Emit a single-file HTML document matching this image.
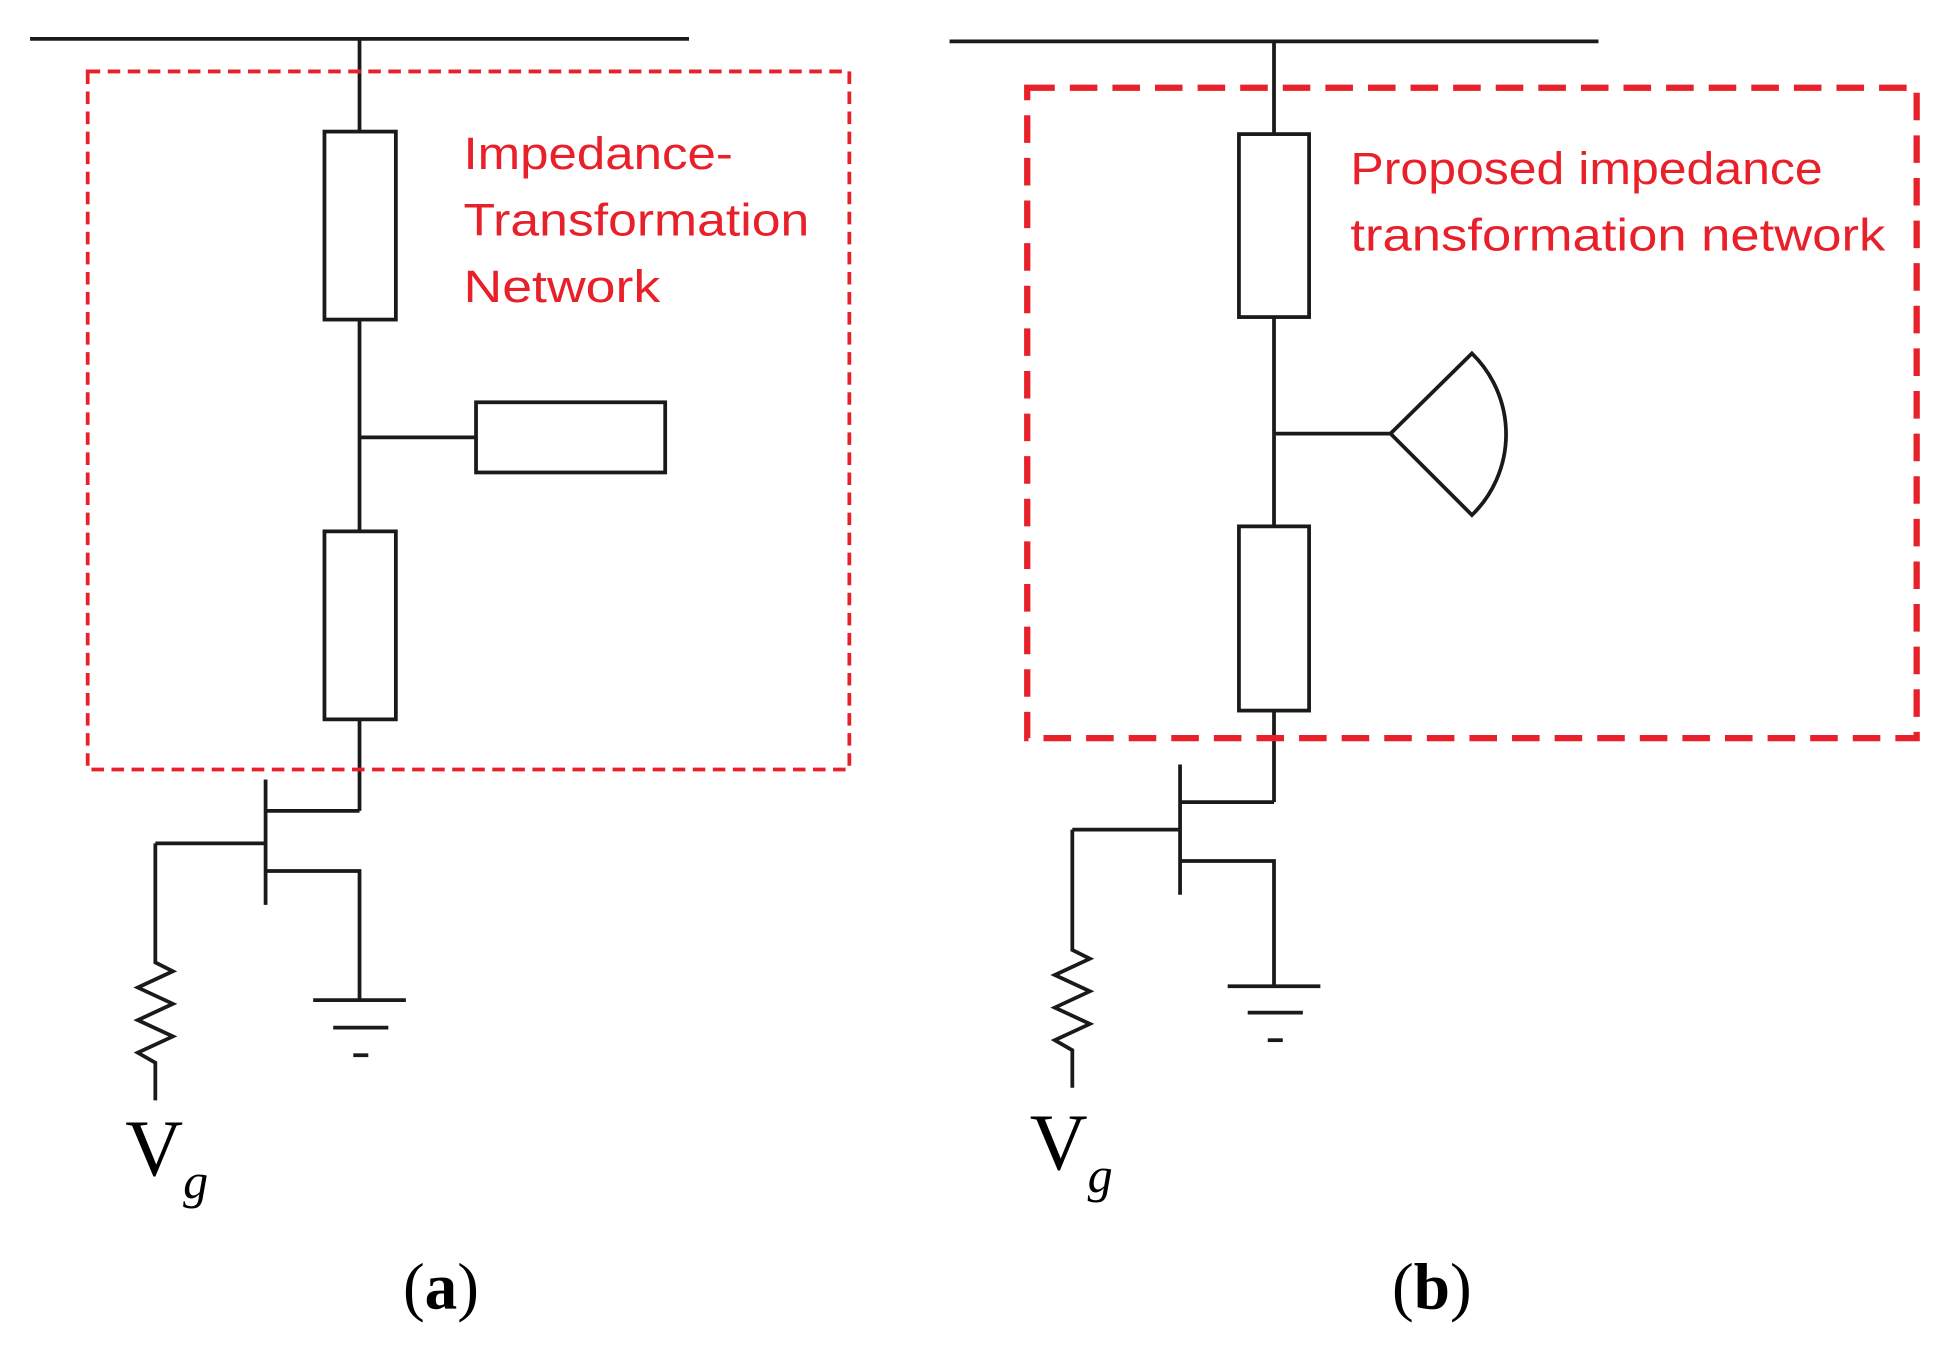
<!DOCTYPE html>
<html><head><meta charset="utf-8"><style>
html,body{margin:0;padding:0;background:#fff;}
svg{display:block;}
</style></head><body>
<svg width="1958" height="1356" viewBox="0 0 1563 1082" preserveAspectRatio="none" xmlns="http://www.w3.org/2000/svg">
<g stroke="#1a1a1a" stroke-width="3" fill="none">
<line x1="24" y1="31" x2="550" y2="31"/>
<line x1="287" y1="31" x2="287" y2="105"/>
<rect x="259" y="105" width="57" height="150" fill="#fff"/>
<line x1="287" y1="255" x2="287" y2="424"/>
<line x1="287" y1="349" x2="380" y2="349"/>
<rect x="380" y="321" width="151" height="56"/>
<rect x="259" y="424" width="57" height="150"/>
<line x1="287" y1="574" x2="287" y2="647"/>
<line x1="212" y1="647" x2="287" y2="647"/>
<line x1="212" y1="622" x2="212" y2="722"/>
<line x1="124" y1="673" x2="212" y2="673"/>
<polyline points="212,695 287,695 287,798"/>
<line x1="250" y1="798" x2="324" y2="798"/>
<line x1="266" y1="820" x2="310" y2="820"/>
<line x1="282" y1="842" x2="294" y2="842"/>
<polyline points="124,673 124,768 138,775 110,788 138,801 110,814 138,827 110,840 124,848 124,878"/>
<line x1="758" y1="33" x2="1276" y2="33"/>
<line x1="1017" y1="33" x2="1017" y2="107"/>
<rect x="989" y="107" width="56" height="146"/>
<line x1="1017" y1="253" x2="1017" y2="420"/>
<line x1="1017" y1="346" x2="1110" y2="346"/>
<path d="M1110,346 L1175,282 A90,90 0 0 1 1175,411 Z"/>
<rect x="989" y="420" width="56" height="147"/>
<line x1="1017" y1="567" x2="1017" y2="640"/>
<line x1="942" y1="640" x2="1017" y2="640"/>
<line x1="942" y1="610" x2="942" y2="714"/>
<line x1="856" y1="662" x2="942" y2="662"/>
<polyline points="942,687 1017,687 1017,787"/>
<line x1="980" y1="787" x2="1054" y2="787"/>
<line x1="996" y1="808" x2="1040" y2="808"/>
<line x1="1012" y1="830" x2="1024" y2="830"/>
<polyline points="856,662 856,758 870,765 842,778 870,791 842,804 870,817 842,830 856,838 856,868"/>
</g>
<rect x="70" y="57" width="608" height="557" fill="none" stroke="#e8202a" stroke-width="3" stroke-dasharray="10,6"/>
<rect x="820" y="70" width="710" height="519" fill="none" stroke="#e8202a" stroke-width="5" stroke-dasharray="22,12"/>
<g fill="#e8202a" font-family="Liberation Sans, sans-serif" font-size="36">
<text x="370" y="135" textLength="215" lengthAdjust="spacingAndGlyphs">Impedance-</text>
<text x="370" y="188" textLength="276" lengthAdjust="spacingAndGlyphs">Transformation</text>
<text x="370" y="241" textLength="157" lengthAdjust="spacingAndGlyphs">Network</text>
<text x="1078" y="147" textLength="377" lengthAdjust="spacingAndGlyphs">Proposed impedance</text>
<text x="1078" y="200" textLength="427" lengthAdjust="spacingAndGlyphs">transformation network</text>
</g>
<g font-family="Liberation Serif, serif" fill="#000">
<text x="100" y="938" font-size="64">V<tspan font-size="40" font-style="italic" dy="18">g</tspan></text>
<text x="822" y="933" font-size="64">V<tspan font-size="40" font-style="italic" dy="18">g</tspan></text>
<text x="352" y="1044" font-size="52" text-anchor="middle">(<tspan font-weight="bold">a</tspan>)</text>
<text x="1143" y="1044" font-size="52" text-anchor="middle">(<tspan font-weight="bold">b</tspan>)</text>
</g>
</svg>
</body></html>
